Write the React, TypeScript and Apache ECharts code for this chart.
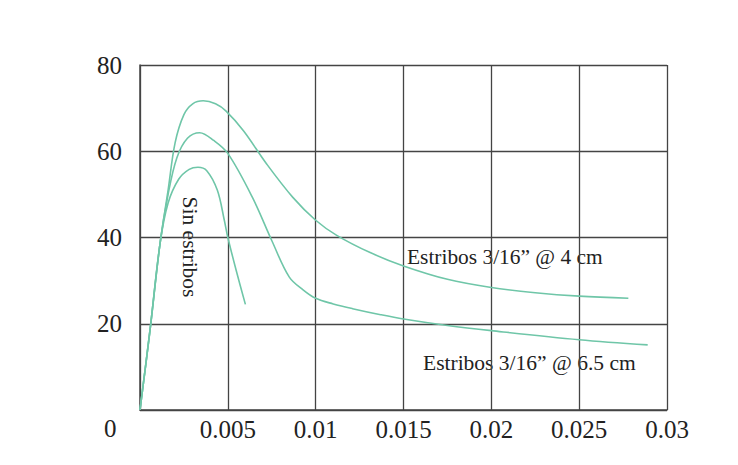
import React, { useEffect, useRef } from "react";
import * as echarts from "echarts";

const xTicks = [0, 0.005, 0.01, 0.015, 0.02, 0.025, 0.03];
const yTicks = [0, 20, 40, 60, 80];

const sinEstribos: [number, number][] = [
  [0, 0], [0.00057, 18.5], [0.00114, 38.6], [0.0016, 48], [0.0022, 53.5],
  [0.0028, 55.8], [0.0033, 56.3], [0.0038, 55.5], [0.0044, 51], [0.0048, 44],
  [0.005, 40], [0.0055, 32], [0.006, 24.5],
];

const estribos65: [number, number][] = [
  [0, 0], [0.00057, 18.5], [0.00114, 38.6], [0.0016, 50], [0.0021, 58.5],
  [0.0027, 63], [0.0034, 64.3], [0.0042, 62.5], [0.005, 59.5], [0.0064, 49.3],
  [0.0075, 39.3], [0.0085, 30.8], [0.0093, 27.8], [0.01, 25.9], [0.011, 24.6],
  [0.0121, 23.5], [0.0137, 22.1], [0.015, 21.1], [0.0175, 19.6], [0.02, 18.4],
  [0.025, 16.3], [0.0289, 15.1],
];

const estribos4: [number, number][] = [
  [0, 0], [0.00057, 18.5], [0.00114, 38.6], [0.0016, 51], [0.002, 62],
  [0.0025, 68.5], [0.003, 71], [0.0036, 71.7], [0.0043, 71], [0.0049, 69.3],
  [0.0059, 64.7], [0.0072, 57.1], [0.0087, 49.3], [0.01, 44], [0.0112, 40.5],
  [0.0131, 36.5], [0.015, 33.4], [0.0175, 30.3], [0.02, 28.4], [0.0225, 27.2],
  [0.025, 26.4], [0.0278, 25.9],
];

const FAMILY = "Liberation Serif";
const CURVE = "#6fc6a8";
const GRID = "#444";

export default function App() {
  const ref = useRef<HTMLDivElement>(null);
  useEffect(() => {
    if (!ref.current) return;
    const chart = echarts.init(ref.current, null, { renderer: "svg" });
    const lineSeries = (name: string, data: [number, number][]) => ({
      name,
      type: "line",
      data,
      smooth: 0.35,
      symbol: "none",
      lineStyle: { color: CURVE, width: 1.6 },
    });
    chart.setOption({
      animation: false,
      backgroundColor: "#ffffff",
      textStyle: { fontFamily: FAMILY },
      grid: { left: 140, right: 71, top: 65, bottom: 55 },
      xAxis: {
        type: "value",
        min: xTicks[0],
        max: xTicks[xTicks.length - 1],
        interval: 0.005,
        axisLine: { show: true, lineStyle: { color: GRID, width: 1.5 } },
        axisTick: { show: false },
        splitLine: { show: true, lineStyle: { color: GRID, width: 1.3 } },
        axisLabel: {
          margin: 7,
          fontFamily: FAMILY,
          fontSize: 25,
          color: "#222",
          formatter: (v: number) => (v === 0 ? "" : String(+v.toFixed(3))),
        },
      },
      yAxis: {
        type: "value",
        min: yTicks[0],
        max: yTicks[yTicks.length - 1],
        interval: 20,
        axisLine: { show: true, lineStyle: { color: GRID, width: 1.5 } },
        axisTick: { show: false },
        splitLine: { show: true, lineStyle: { color: GRID, width: 1.3 } },
        axisLabel: {
          margin: 18,
          fontFamily: FAMILY,
          fontSize: 25,
          color: "#222",
          formatter: (v: number) => (v === 0 ? "" : String(v)),
        },
      },
      graphic: [
        {
          type: "text",
          left: 104,
          top: 416,
          style: { text: "0", font: `25px "${FAMILY}"`, fill: "#222" },
        },
        {
          type: "text",
          x: 190,
          y: 247,
          rotation: -Math.PI / 2,
          style: {
            text: "Sin estribos",
            font: `21.5px "${FAMILY}"`,
            fill: "#222",
            align: "center",
            verticalAlign: "middle",
          },
        },
        {
          type: "text",
          x: 407,
          y: 257,
          style: {
            text: "Estribos 3/16\u201D @ 4 cm",
            font: `21.4px "${FAMILY}"`,
            fill: "#222",
            verticalAlign: "middle",
          },
        },
        {
          type: "text",
          x: 423,
          y: 363,
          style: {
            text: "Estribos 3/16\u201D @ 6.5 cm",
            font: `21.5px "${FAMILY}"`,
            fill: "#222",
            verticalAlign: "middle",
          },
        },
      ],
      series: [
        lineSeries("Sin estribos", sinEstribos),
        lineSeries("Estribos 3/16\u201D @ 6.5 cm", estribos65),
        lineSeries("Estribos 3/16\u201D @ 4 cm", estribos4),
      ],
    });
    return () => chart.dispose();
  }, []);
  return (
    <div
      ref={ref}
      style={{ position: "fixed", left: 0, top: 0, width: 738, height: 465 }}
    />
  );
}
